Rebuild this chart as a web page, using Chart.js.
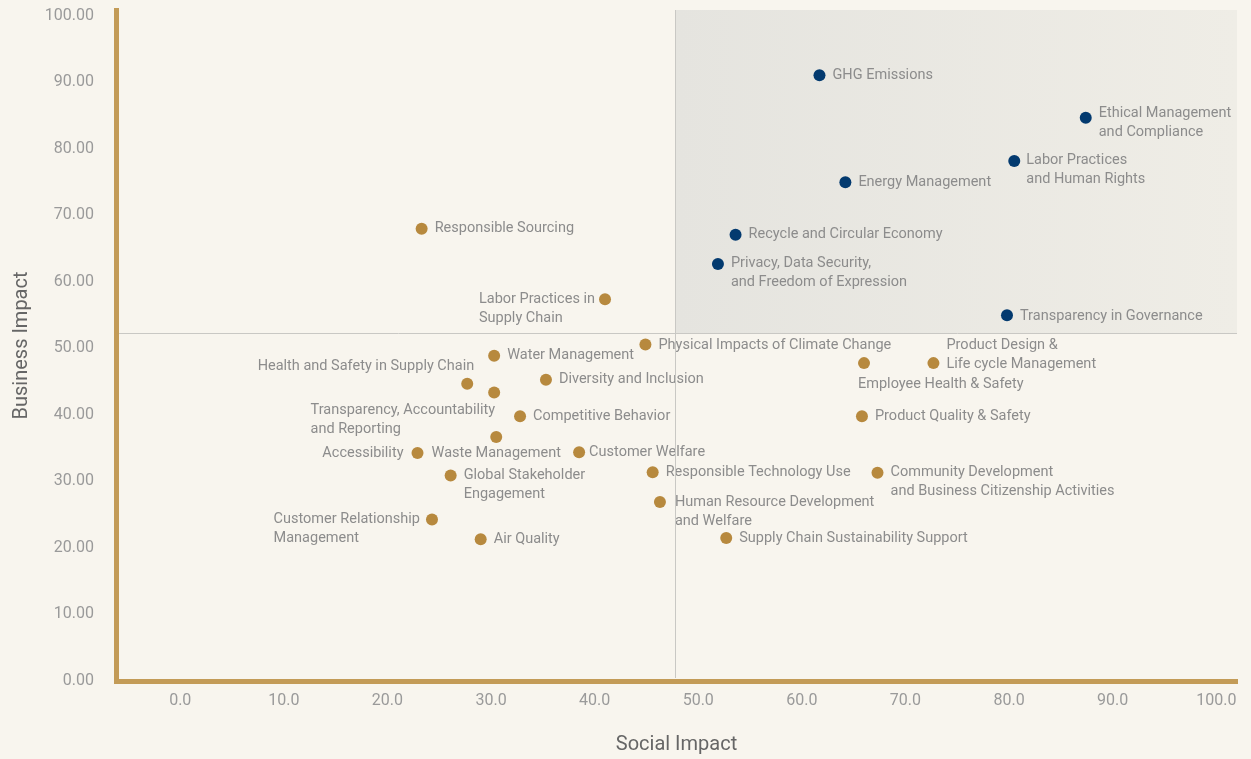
<!DOCTYPE html>
<html>
<head>
<meta charset="utf-8">
<script src="https://cdn.jsdelivr.net/npm/chart.js@4.4.0/dist/chart.umd.min.js"></script>
<style>
  body { margin: 0; background: #f8f5ee; }
  #wrap { width: 1251px; height: 759px; position: relative; }
</style>
</head>
<body>
<div id="wrap"><canvas id="matrix"></canvas></div>
<script>
// material topics (navy, top-right quadrant)
const keyTopics = [
    ['GHG Emissions'],
    ['Ethical Management', 'and Compliance'],
    ['Labor Practices', 'and Human Rights'],
    ['Energy Management'],
    ['Recycle and Circular Economy'],
    ['Privacy, Data Security,', 'and Freedom of Expression'],
    ['Transparency in Governance']
];
const keyX = [61.7, 87.4, 80.5, 64.2, 53.6, 51.9, 79.8];
const keyY = [91.1, 84.7, 78.2, 75.0, 67.1, 62.7, 55.0];

// other topics (gold)
const otherTopics = [
    ['Responsible Sourcing'],
    ['Labor Practices in', 'Supply Chain'],
    ['Physical Impacts of Climate Change'],
    ['Water Management'],
    ['Health and Safety in Supply Chain'],
    ['Diversity and Inclusion'],
    ['Transparency, Accountability', 'and Reporting'],
    ['Competitive Behavior'],
    ['Waste Management'],
    ['Customer Welfare'],
    ['Accessibility'],
    ['Global Stakeholder', 'Engagement'],
    ['Responsible Technology Use'],
    ['Human Resource Development', 'and Welfare'],
    ['Customer Relationship', 'Management'],
    ['Air Quality'],
    ['Supply Chain Sustainability Support'],
    ['Employee Health & Safety'],
    ['Product Design &', 'Life cycle Management'],
    ['Product Quality & Safety'],
    ['Community Development', 'and Business Citizenship Activities']
];
const otherX = [23.3, 41.0, 44.9, 30.3, 27.7, 35.3, 30.3, 32.8, 30.5, 38.5, 22.9,
                26.1, 45.6, 46.3, 24.3, 29.0, 52.7, 66.0, 72.7, 65.8, 67.3];
const otherY = [68.0, 57.4, 50.6, 48.9, 44.7, 45.3, 43.4, 39.8, 36.7, 34.4, 34.3,
                30.9, 31.4, 26.9, 24.3, 21.3, 21.5, 47.8, 47.8, 39.8, 31.3];

const xTicks = [0, 10, 20, 30, 40, 50, 60, 70, 80, 90, 100];
const yTicks = [0, 10, 20, 30, 40, 50, 60, 70, 80, 90, 100];

// quadrant split
const xCut = 47.8;
const yCut = 52.3;

// label placement: [mode, dx, dy]  R = text right of anchor, L = block ends at anchor, C = centred
const keyLabelPos = [
    ['R', 13, 0], ['R', 13, -4], ['R', 12, -1], ['R', 13, 0],
    ['R', 13, 0], ['R', 13, -1], ['R', 13, 1]
];
const otherLabelPos = [
    ['R', 13, 0], ['L', -10, 0], ['R', 13, 1], ['R', 13, 0], ['L', 7, -17],
    ['R', 13, 0], ['L', 1, 18], ['R', 13, 0], ['C', 0, 16], ['R', 10, 0],
    ['L', -14, 0], ['R', 13, 0], ['R', 13, 0], ['R', 15, 0], ['L', -12, 0],
    ['R', 13, 0], ['R', 13, 0], ['R', -6, 21], ['R', 13, -18], ['R', 13, 0],
    ['R', 13, 0]
];

const bgColor = '#f8f5ee';
const gold = '#c39b57';

const toPoints = (xs, ys) => xs.map((x, i) => ({ x: x, y: ys[i] }));

const backdrop = {
    id: 'backdrop',
    beforeDraw(chart) {
        const { ctx, chartArea, scales } = chart;
        ctx.save();
        ctx.fillStyle = bgColor;
        ctx.fillRect(0, 0, chart.width, chart.height);
        const x0 = scales.x.getPixelForValue(xCut);
        const y0 = scales.y.getPixelForValue(yCut);
        const grad = ctx.createLinearGradient(x0, 0, chartArea.right, 0);
        grad.addColorStop(0, '#e5e4df');
        grad.addColorStop(1, '#efede6');
        ctx.fillStyle = grad;
        ctx.fillRect(x0, chartArea.top, chartArea.right - x0, y0 - chartArea.top);
        ctx.restore();
    },
    afterDraw(chart) {
        const { ctx, chartArea, scales } = chart;
        const x0 = Math.round(scales.x.getPixelForValue(xCut)) + 0.5;
        const y0 = Math.round(scales.y.getPixelForValue(yCut)) + 0.5;
        ctx.save();
        ctx.strokeStyle = '#c9c8c4';
        ctx.lineWidth = 1;
        ctx.beginPath();
        ctx.moveTo(x0, chartArea.top);
        ctx.lineTo(x0, chartArea.bottom - 3);
        ctx.moveTo(chartArea.left + 3, y0);
        ctx.lineTo(chartArea.right, y0);
        ctx.stroke();
        ctx.restore();
    }
};

const topicLabels = {
    id: 'topicLabels',
    afterDatasetsDraw(chart) {
        const ctx = chart.ctx;
        ctx.save();
        ctx.font = '14.5px Roboto';
        ctx.fillStyle = '#8c8c8c';
        ctx.textBaseline = 'middle';
        chart.data.datasets.forEach((ds, i) => {
            const meta = chart.getDatasetMeta(i);
            meta.data.forEach((pt, j) => {
                const lines = ds.names[j];
                const [mode, dx, dy] = ds.placing[j];
                const w = Math.max(...lines.map(l => ctx.measureText(l).width));
                let x = pt.x + dx;
                ctx.textAlign = 'left';
                if (mode === 'L') {
                    x = pt.x + dx - w;
                } else if (mode === 'C') {
                    ctx.textAlign = 'center';
                }
                lines.forEach((l, k) => ctx.fillText(l, x, pt.y + dy + k * 19));
            });
        });
        ctx.restore();
    }
};

new Chart(document.getElementById('matrix'), {
    type: 'scatter',
    data: {
        datasets: [
            {
                label: 'Key topics',
                data: toPoints(keyX, keyY),
                names: keyTopics,
                placing: keyLabelPos,
                pointRadius: 6,
                pointHoverRadius: 6,
                pointBorderWidth: 0,
                backgroundColor: '#033a6f'
            },
            {
                label: 'Other topics',
                data: toPoints(otherX, otherY),
                names: otherTopics,
                placing: otherLabelPos,
                pointRadius: 6,
                pointHoverRadius: 6,
                pointBorderWidth: 0,
                backgroundColor: '#b7893e'
            }
        ]
    },
    options: {
        responsive: true,
        maintainAspectRatio: false,
        animation: false,
        layout: { padding: { top: 10, right: 14, left: 0, bottom: 0 } },
        plugins: {
            legend: { display: false },
            tooltip: { enabled: false }
        },
        scales: {
            x: {
                type: 'linear',
                min: -6.2,
                max: 102,
                afterBuildTicks: (scale) => { scale.ticks = xTicks.map(v => ({ value: v })); },
                afterFit: (scale) => {
                    scale.height = 78;
                    scale.paddingLeft = 0;
                    scale.paddingRight = 0;
                },
                grid: { display: false, drawTicks: false },
                border: { display: true, color: gold, width: 5 },
                ticks: {
                    padding: 10,
                    color: '#9a9a9a',
                    font: { family: 'Roboto', size: 16 },
                    callback: (v) => v.toFixed(1)
                },
                title: {
                    display: true,
                    text: 'Social Impact',
                    color: '#666666',
                    font: { family: 'Roboto', size: 20 },
                    padding: { top: 0, bottom: 2 }
                }
            },
            y: {
                type: 'linear',
                min: 0,
                max: 100.9,
                afterBuildTicks: (scale) => { scale.ticks = yTicks.map(v => ({ value: v })); },
                afterFit: (scale) => {
                    scale.width = 116;
                    scale.paddingTop = 0;
                    scale.paddingBottom = 0;
                },
                grid: { display: false, drawTicks: false },
                border: { display: true, color: gold, width: 5 },
                ticks: {
                    padding: 22,
                    color: '#9a9a9a',
                    font: { family: 'Roboto', size: 16 },
                    callback: (v) => v.toFixed(2)
                },
                title: {
                    display: true,
                    text: 'Business Impact',
                    color: '#666666',
                    font: { family: 'Roboto', size: 20 },
                    padding: { top: 10, bottom: 0 }
                }
            }
        }
    },
    plugins: [backdrop, topicLabels]
});
</script>
</body>
</html>
